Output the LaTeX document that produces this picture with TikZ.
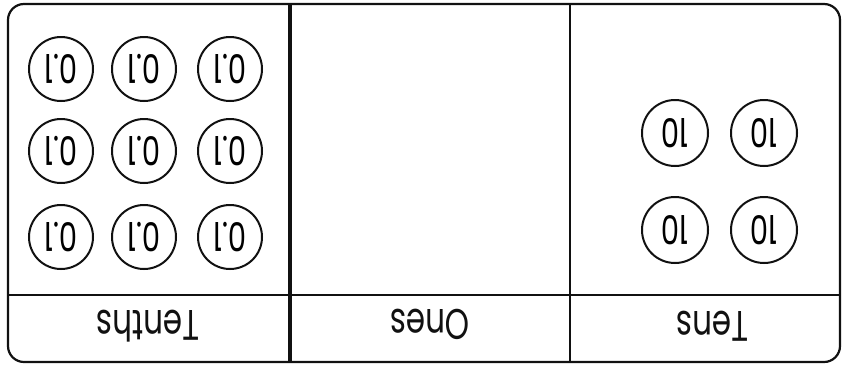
\documentclass[tikz,border=0pt]{standalone}
\usepackage{fontspec}
\setmainfont{Poppins}
\usepackage{tikz}
\usetikzlibrary{positioning}
\usepackage{xcolor}
\definecolor{ink}{HTML}{111111}
\newcommand{\tall}[1]{\scalebox{1}[1.38]{#1}}
\tikzset{
  frame/.style={draw=ink, line width=2.2pt, rounded corners=16pt},
  divider/.style={draw=ink, line width=2pt},
  thickdivider/.style={draw=ink, line width=4pt},
  coin/.style={circle, draw=ink, line width=2pt, minimum size=64pt, inner sep=0pt, rotate=180, font=\fontsize{29}{29}\selectfont},
  tenth/.style={coin},
  ten/.style={coin, minimum size=66pt},
  colname/.style={rotate=180, font=\fontsize{31}{34}\selectfont, text=ink}
}
\begin{document}
\begin{tikzpicture}[x=1pt, y=-1pt]
  \useasboundingbox (0,0) rectangle (845,367);
  % place value chart, drawn upside down
  \draw[frame] (8,4) rectangle (840,362);
  \draw[thickdivider] (290,4) -- (290,362);
  \draw[divider] (570,4) -- (570,362);
  \draw[divider] (8,295) -- (840,295);
  % column headings
  \node[colname] (tenths) at (148,326) {\tall{Tenths}};
  \node[colname] (ones) at (430,324) {\tall{Ones}};
  \node[colname] (tens) at (712,326) {\tall{Tens}};
  % tenths discs
  \node[tenth] (t11) at (61,69) {\tall{0.1}};
  \node[tenth] (t12) at (144,69) {\tall{0.1}};
  \node[tenth] (t13) at (230,69) {\tall{0.1}};
  \node[tenth] (t21) at (61,151) {\tall{0.1}};
  \node[tenth] (t22) at (144,151) {\tall{0.1}};
  \node[tenth] (t23) at (230,151) {\tall{0.1}};
  \node[tenth] (t31) at (61,237) {\tall{0.1}};
  \node[tenth] (t32) at (144,237) {\tall{0.1}};
  \node[tenth] (t33) at (230,237) {\tall{0.1}};
  % tens discs
  \node[ten] (d11) at (675,133) {\tall{10}};
  \node[ten] (d12) at (764,133) {\tall{10}};
  \node[ten] (d21) at (675,230) {\tall{10}};
  \node[ten] (d22) at (764,230) {\tall{10}};
\end{tikzpicture}
\end{document}
